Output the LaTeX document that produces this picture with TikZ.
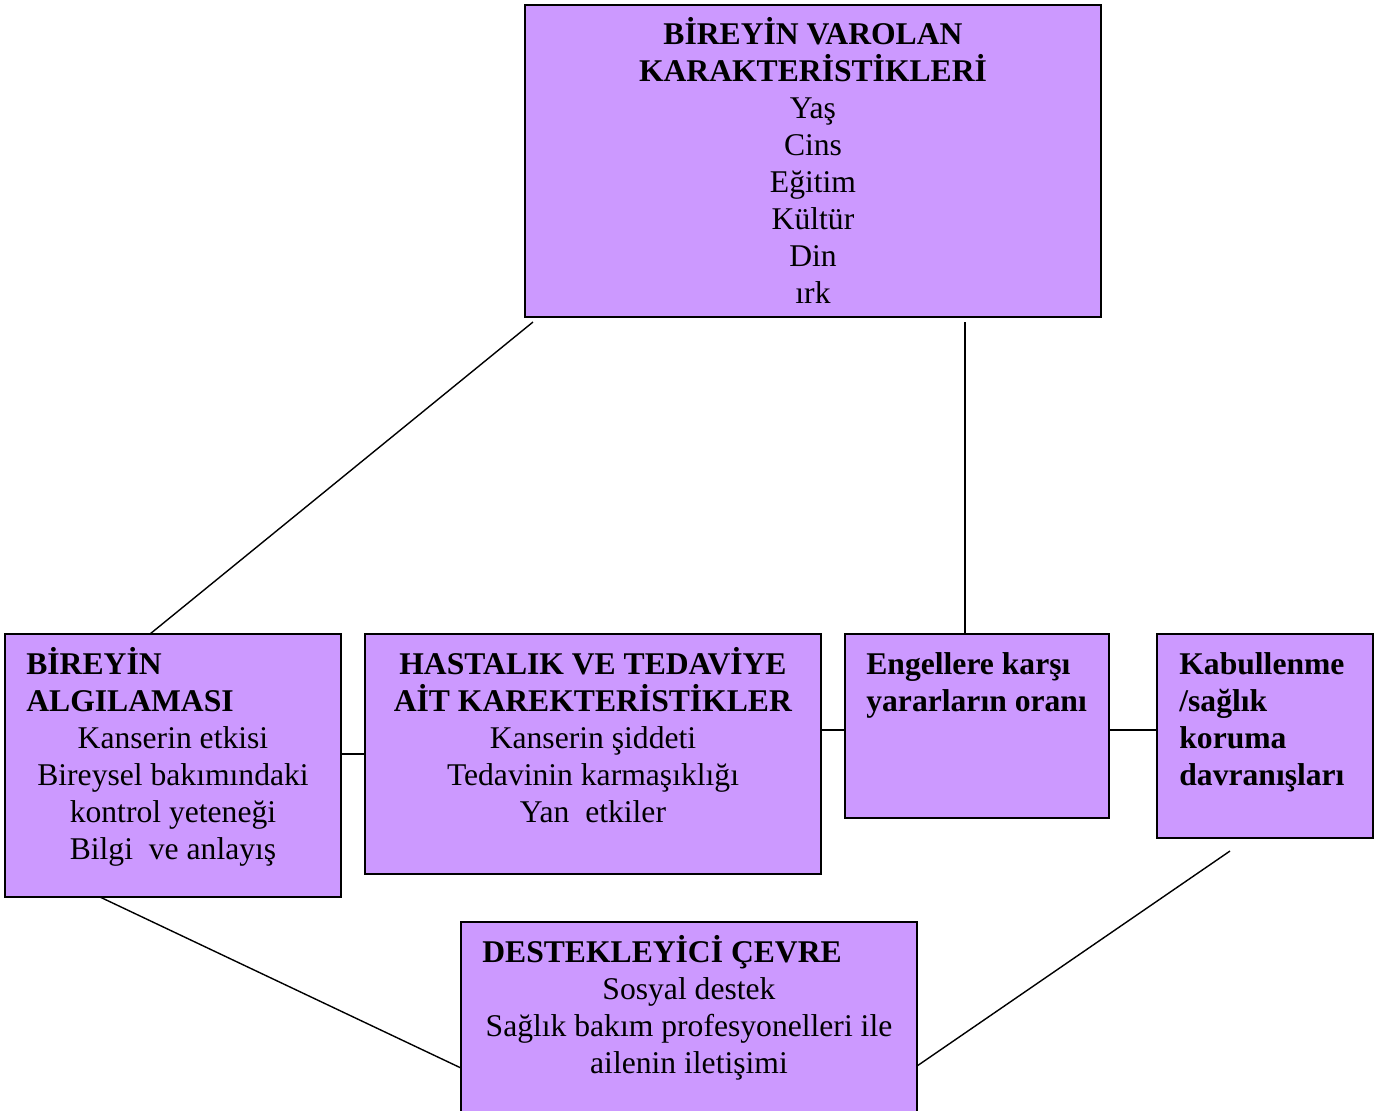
\documentclass[tikz,border=0pt]{standalone}
\usepackage{fontspec}
\setmainfont{Liberation Serif}
\usetikzlibrary{positioning}
\definecolor{lila}{HTML}{CC99FF}

\tikzset{
    kutu/.style={draw=black, line width=1.1pt, fill=lila, rectangle, inner sep=0pt, outer sep=0pt, anchor=north west},
    yazi/.style={inner sep=0pt, font=\fontsize{18}{21}\selectfont},
    bag/.style={draw=black, line width=0.8pt}
}

\begin{document}
\begin{tikzpicture}[x=0.02cm, y=-0.02cm]
    \useasboundingbox (0,0) rectangle (1387,1110);
    \clip (0,0) rectangle (1387,1110);

    % kutular
    \node[kutu, minimum width=11.52cm, minimum height=6.24cm] (top) at (525,5) {};
    \node[kutu, minimum width=6.72cm, minimum height=5.26cm] (percep) at (5,634) {};
    \node[kutu, minimum width=9.12cm, minimum height=4.80cm] (disease) at (365,634) {};
    \node[kutu, minimum width=5.28cm, minimum height=3.68cm] (ratio) at (845,634) {};
    \node[kutu, minimum width=4.32cm, minimum height=4.08cm] (accept) at (1157,634) {};
    \node[kutu, minimum width=9.12cm, minimum height=4.40cm] (env) at (461,922) {};

    % baglantilar
    \coordinate (t1) at (533,322);
    \coordinate (p1) at (150,634);
    \draw[bag] (t1) -- (p1);
    \coordinate (t2) at (965,322);
    \draw[bag] (t2) -- (t2 |- ratio.north);
    \draw[bag] (percep.east |- disease.west) -- (disease.west);
    \coordinate (m1) at (821,730);
    \draw[bag] (m1) -- (m1 -| ratio.west);
    \draw[bag] (ratio.east |- m1) -- (accept.west |- m1);
    \coordinate (p2) at (100,897);
    \coordinate (e1) at (461,1068);
    \draw[bag] (p2) -- (e1);
    \coordinate (k1) at (1230,851);
    \coordinate (e2) at (917,1066);
    \draw[bag] (k1) -- (e2);

    % yazilar (base = son satir)
    \node[yazi, align=center, anchor=base] (top-txt) at (813,303)
        {\textbf{BİREYİN VAROLAN}\\\textbf{KARAKTERİSTİKLERİ}\\Yaş\\Cins\\Eğitim\\Kültür\\Din\\ırk};
    \node[yazi, align=left, anchor=base west] (percep-ttl) at (26,711)
        {\textbf{BİREYİN}\\\textbf{ALGILAMASI}};
    \node[yazi, align=center, anchor=base] (percep-txt) at (173,859)
        {Kanserin etkisi\\Bireysel bakımındaki\\kontrol yeteneği\\Bilgi\ \ ve anlayış};
    \node[yazi, align=center, anchor=base] (disease-txt) at (593,822)
        {\textbf{HASTALIK VE TEDAVİYE}\\\textbf{AİT KAREKTERİSTİKLER}\\Kanserin şiddeti\\Tedavinin karmaşıklığı\\Yan\ \ etkiler};
    \node[yazi, align=left, anchor=base west] (ratio-txt) at (866,711)
        {\textbf{Engellere karşı}\\\textbf{yararların oranı}};
    \node[yazi, align=left, anchor=base west] (accept-txt) at (1179,785)
        {\textbf{Kabullenme}\\\textbf{/sağlık}\\\textbf{koruma}\\\textbf{davranışları}};
    \node[yazi, align=left, anchor=base west] (env-ttl) at (482,962)
        {\textbf{DESTEKLEYİCİ ÇEVRE}};
    \node[yazi, align=center, anchor=base] (env-txt) at (689,1073)
        {Sosyal destek\\Sağlık bakım profesyonelleri ile\\ailenin iletişimi};
\end{tikzpicture}
\end{document}
